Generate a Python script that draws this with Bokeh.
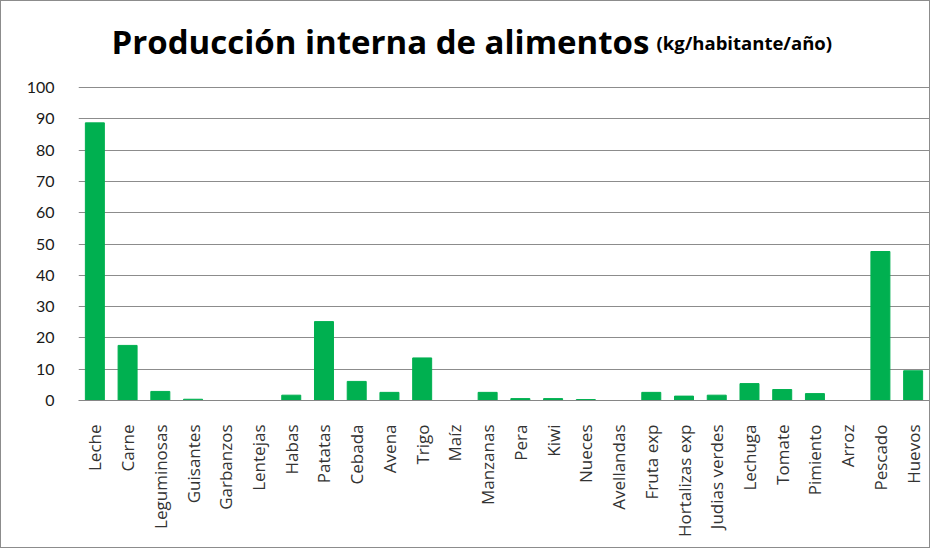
from bokeh.plotting import figure
from bokeh.models import Label, Range1d, FactorRange, FixedTicker
from bokeh.embed import file_html
from bokeh.resources import INLINE

categories = ["Leche", "Carne", "Leguminosas", "Guisantes", "Garbanzos", "Lentejas",
              "Habas", "Patatas", "Cebada", "Avena", "Trigo", "Maíz", "Manzanas",
              "Pera", "Kiwi", "Nueces", "Avellandas", "Fruta exp", "Hortalizas exp",
              "Judias verdes", "Lechuga", "Tomate", "Pimiento", "Arroz", "Pescado", "Huevos"]
values = [88.7, 17.6, 2.9, 0.4, 0.0, 0.0,
          1.7, 25.2, 6.1, 2.6, 13.6, 0.0, 2.6,
          0.6, 0.6, 0.3, 0.0, 2.6, 1.4,
          1.7, 5.4, 3.5, 2.2, 0.0, 47.6, 9.5]
y_ticks = [0, 10, 20, 30, 40, 50, 60, 70, 80, 90, 100]

# frame spans the full height above the axis so the title can sit inside it;
# 100 maps to 86 px below the top (frame height 399 px, 313 px for 0..100)
HEIGHT, BOTTOM = 548, 149
frame_h = HEIGHT - BOTTOM
y_top = 100 * frame_h / (frame_h - 86)

p = figure(width=930, height=HEIGHT, output_backend="svg", toolbar_location=None,
           x_range=FactorRange(*categories, range_padding=0),
           y_range=Range1d(0, y_top),
           min_border_left=77, min_border_top=0, min_border_right=2,
           min_border_bottom=BOTTOM)
p.styles = {"border": "1px solid #8c8c8c"}
p.outline_line_color = None
p.background_fill_color = "white"
p.border_fill_color = "white"

p.vbar(x=categories, top=values, width=0.58, color="#00B050", line_color="#00B050")

p.yaxis.ticker = FixedTicker(ticks=y_ticks)
p.yaxis.axis_line_color = None
p.yaxis.major_tick_line_color = None
p.yaxis.minor_tick_line_color = None
p.yaxis.major_label_text_font = "Lato"
p.yaxis.major_label_text_font_size = "16px"
p.yaxis.major_label_text_color = "#1a1a1a"
p.yaxis.major_label_standoff = 18

p.xaxis.axis_line_color = "#868686"
p.xaxis.major_tick_line_color = None
p.xaxis.minor_tick_line_color = None
p.xaxis.major_label_orientation = 1.5708
p.xaxis.major_label_text_font = "Open Sans"
p.xaxis.major_label_text_font_size = "17px"
p.xaxis.major_label_text_color = "#333333"
p.xaxis.major_label_standoff = 18

p.xgrid.grid_line_color = None
p.ygrid.grid_line_color = "#8c8c8c"
p.ygrid.grid_line_width = 1

title1 = Label(x=33, y=359, x_units="screen", y_units="screen",
               text="Producción interna de alimentos", text_font="Open Sans",
               text_font_style="bold", text_font_size="33px", text_color="black",
               text_baseline="alphabetic")
title2 = Label(x=578, y=358, x_units="screen", y_units="screen",
               text="(kg/habitante/año)", text_font="Open Sans",
               text_font_style="bold", text_font_size="18.5px", text_color="black",
               text_baseline="alphabetic")
p.add_layout(title1)
p.add_layout(title2)

open("out.html", "w").write(file_html(p, INLINE))
